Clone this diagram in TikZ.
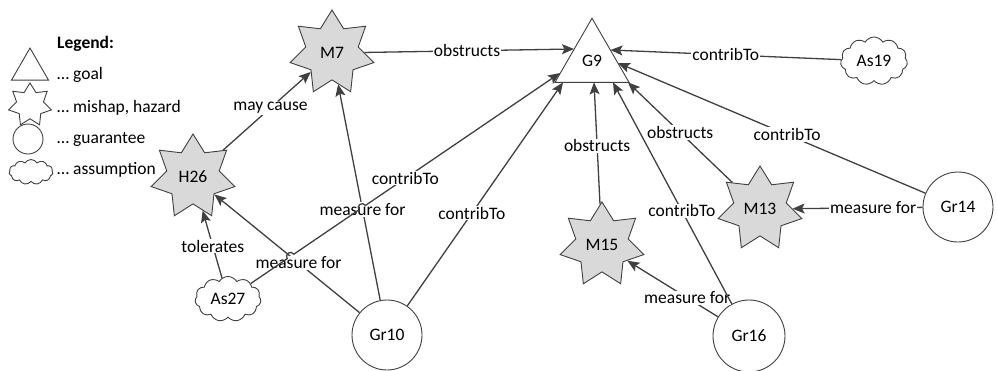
\documentclass[tikz,border=0pt]{standalone}
\usepackage{fontspec}
\setmainfont{Carlito}
\usetikzlibrary{shapes.geometric,shapes.symbols,arrows.meta,calc,intersections}
\definecolor{ln}{HTML}{404040}
\definecolor{starfill}{HTML}{D9D9D9}
\begin{document}
\begin{tikzpicture}[x=1pt,y=-1pt,
  font=\fontsize{17.5}{20}\selectfont,
  every node/.style={inner sep=0pt},
  hazard/.style={star, star points=7, star point ratio=1.6, minimum size=86pt, draw=ln, fill=starfill, line width=0.9pt},
  goal/.style={regular polygon, regular polygon sides=3, minimum size=85.5pt, draw=ln, line width=0.9pt},
  guar/.style={circle, minimum size=70pt, draw=ln, line width=0.9pt},
  assum/.style={cloud, cloud puffs=11, cloud puff arc=120, cloud ignores aspect=true, minimum width=66pt, minimum height=45pt, draw=ln, line width=0.9pt},
  edge/.style={draw=ln, line width=1.3pt, -{Stealth[length=12pt,width=10pt,inset=2.5pt]}},
  lab/.style={fill=white, inner sep=1pt, text=black},
  legtext/.style={anchor=base west}
]
\useasboundingbox (0,0) rectangle (997,370);

% legend
\node[legtext, font=\fontsize{17.5}{20}\selectfont\bfseries] (legT) at (57,48) {Legend:};
\node[goal, minimum size=42.7pt, fill=white] (lgoal) at (30,69.4) {};
\node[legtext] (lgoalT) at (57,79) {… goal};
\node[hazard, minimum size=44pt, fill=white] (lhaz) at (30,105) {};
\node[legtext] (lhazT) at (57,112) {… mishap, hazard};
\node[guar, minimum size=30pt] (lguar) at (28,139) {};
\node[legtext] (lguarT) at (57,143) {… guarantee};
\node[assum, minimum width=44pt, minimum height=25pt] (lass) at (31,172) {};
\node[legtext] (lassT) at (57,174) {… assumption};

% nodes
\node[goal] (G9) at (592,61) {G9};
\node[hazard] (M7) at (332,53) {M7};
\node[hazard] (H26) at (193,177) {H26};
\node[hazard] (M13) at (760,209) {M13};
\node[hazard] (M15) at (602,245) {M15};
\node[guar] (Gr10) at (387,335) {Gr10};
\node[guar] (Gr14) at (958,207) {Gr14};
\node[guar, minimum size=72pt] (Gr16) at (749,336) {Gr16};
\node[assum] (As27) at (228,299) {As27};
\node[assum, minimum width=67pt, minimum height=48pt] (As19) at (874,61) {As19};

% points on the border of G9
\coordinate (g9a) at ([shift={(-18,-12)}]G9.center);
\coordinate (g9b) at ([shift={(18.5,-11)}]G9.center);
\coordinate (g9c) at ([shift={(26,2)}]G9.center);
\coordinate (g9d) at ([shift={(-32,12)}]G9.center);
\coordinate (g9e) at ([shift={(-29,21.4)}]G9.center);
\coordinate (g9f) at ([shift={(2,21.4)}]G9.center);
\coordinate (g9g) at ([shift={(21,21.4)}]G9.center);
\coordinate (g9h) at ([shift={(36,21.4)}]G9.center);

% measure edges
\draw[edge,name path=e9] (Gr10) -- (M7) node[lab,pos=0.42]{measure for};
\draw[edge,name path=e10] (Gr10) -- (H26) node[lab,pos=0.42]{measure for};
\draw[edge] (Gr14) -- (M13) node[lab,pos=0.38]{measure for};
\draw[edge] (Gr16) -- (M15) node[lab,pos=0.34]{measure for};
\draw[edge] (As27) -- (H26) node[lab,pos=0.47]{tolerates};
\draw[edge] (H26) -- (M7) node[lab,pos=0.54]{may cause};

% edges to the goal
\draw[edge] (M7) -- (g9a) node[lab,pos=0.49]{obstructs};
\draw[edge] (As19) -- (g9b) node[lab,pos=0.50]{contribTo};
\draw[edge] (Gr14) -- (g9c) node[lab,pos=0.45]{contribTo};
\draw[edge] (M13) -- (g9h) node[lab,pos=0.50]{obstructs};
\draw[edge] (Gr16) -- (g9g) node[lab,pos=0.42]{contribTo};
\draw[edge] (M15) -- (g9f) node[lab,pos=0.48]{obstructs};
\draw[edge] (Gr10) -- (g9e) node[lab,pos=0.415]{contribTo};

% As27 -> G9 with line hops
\path[name path=e12] (As27) -- (g9d);
\path[name intersections={of=e12 and e10, by=X1}];
\path[name intersections={of=e12 and e9, by=X2}];
\coordinate (P1) at ($(X1)!4pt!(As27)$);
\coordinate (Q1) at ($(X1)!4pt!(g9d)$);
\coordinate (P2) at ($(X2)!4pt!(As27)$);
\coordinate (Q2) at ($(X2)!4pt!(g9d)$);
\draw[edge] (As27) -- (P1)
  .. controls ($(P1)!5.3pt!90:(Q1)$) and ($(Q1)!5.3pt!-90:(P1)$) .. (Q1)
  -- (P2)
  .. controls ($(P2)!5.3pt!90:(Q2)$) and ($(Q2)!5.3pt!-90:(P2)$) .. (Q2)
  -- (g9d);
\path (As27) -- (g9d) node[lab,pos=0.50]{contribTo};
\end{tikzpicture}
\end{document}
